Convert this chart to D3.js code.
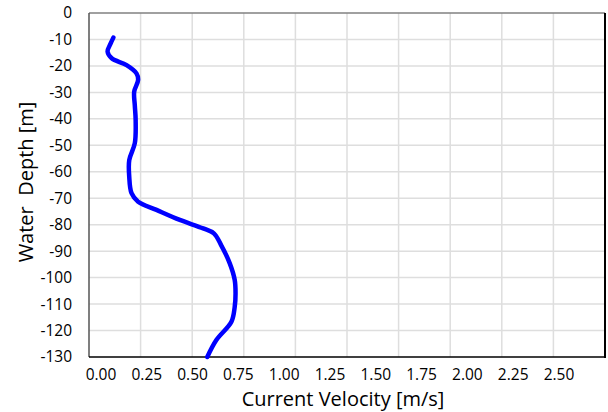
<!DOCTYPE html>
<meta charset="utf-8">
<style>
    body { margin: 0; background: #fff; }
    text { font-family: "Open Sans", sans-serif; fill: #000; }
    .grid line { stroke: #dedede; stroke-width: 1.5; }
    .tick-label { font-size: 15.5px; }
    .title { font-size: 20px; }
</style>
<body>
<script src="https://cdn.jsdelivr.net/npm/d3@7"></script>
<script>

    // profile: depth [m] and current velocity [m/s]
    var depths     = [-9.3, -11.5, -14.6, -17.1, -19.7, -22.8, -25.3, -29.7, -35, -40.4, -49.2, -55.6, -61.9, -68.1, -71.3, -74.4, -78.2, -81.4, -83.3, -87.7, -94.6, -100.9, -106, -111, -116.7, -123.6, -130];
    var velocities = [0.118, 0.105, 0.09, 0.11, 0.182, 0.23, 0.238, 0.219, 0.222, 0.226, 0.222, 0.195, 0.195, 0.206, 0.238, 0.327, 0.44, 0.553, 0.605, 0.64, 0.682, 0.706, 0.71, 0.706, 0.69, 0.617, 0.573];

    var xTicks = [0, 0.25, 0.5, 0.75, 1, 1.25, 1.5, 1.75, 2, 2.25, 2.5];
    var yTicks = [0, -10, -20, -30, -40, -50, -60, -70, -80, -90, -100, -110, -120, -130];

    var width = 608, height = 412;
    var plot = {left: 89, right: 605, top: 13, bottom: 357};

    var svg = d3.select("body").append("svg")
            .attr("width", width)
            .attr("height", height);

    var x = d3.scaleLinear().domain([0, 2.5]).range([plot.left, plot.right]);
    // tick labels in the picture sit on a tighter spacing than the grid
    var xLab = d3.scaleLinear().domain([0, 2.5]).range([101, 559]);
    var y = d3.scaleLinear().domain([-130, 0]).range([plot.bottom, plot.top]);

    var grid = svg.append("g").attr("class", "grid");

    grid.selectAll("line.v")
        .data(xTicks.slice(1))
      .enter().append("line")
        .attr("class", "v")
        .attr("x1", function(d) { return x(d); })
        .attr("x2", function(d) { return x(d); })
        .attr("y1", plot.top)
        .attr("y2", plot.bottom);

    grid.selectAll("line.h")
        .data(yTicks.slice(1, -1))
      .enter().append("line")
        .attr("class", "h")
        .attr("x1", plot.left)
        .attr("x2", plot.right)
        .attr("y1", function(d) { return y(d); })
        .attr("y2", function(d) { return y(d); });

    // frame
    svg.append("line").attr("x1", plot.left).attr("x2", plot.right)
        .attr("y1", plot.top).attr("y2", plot.top)
        .attr("stroke", "#808080").attr("stroke-width", 1.5);
    svg.append("line").attr("x1", plot.left).attr("x2", plot.left)
        .attr("y1", plot.top).attr("y2", plot.bottom)
        .attr("stroke", "#555").attr("stroke-width", 1.5);
    svg.append("line").attr("x1", plot.right).attr("x2", plot.right)
        .attr("y1", plot.top).attr("y2", plot.bottom + 1)
        .attr("stroke", "#000").attr("stroke-width", 2);
    svg.append("line").attr("x1", plot.left).attr("x2", plot.right + 1)
        .attr("y1", plot.bottom).attr("y2", plot.bottom)
        .attr("stroke", "#000").attr("stroke-width", 1.5);

    var profile = depths.map(function(d, i) { return {depth: d, v: velocities[i]}; });

    var line = d3.line()
        .x(function(d) { return x(d.v); })
        .y(function(d) { return y(d.depth); })
        .curve(d3.curveCatmullRom.alpha(0.5));

    svg.append("path")
        .datum(profile)
        .attr("d", line)
        .attr("fill", "none")
        .attr("stroke", "#0000ff")
        .attr("stroke-width", 4.5)
        .attr("stroke-linecap", "round")
        .attr("stroke-linejoin", "round");

    // tick labels
    svg.selectAll("text.xt")
        .data(xTicks)
      .enter().append("text")
        .attr("class", "tick-label")
        .attr("x", function(d) { return xLab(d); })
        .attr("y", 380)
        .attr("text-anchor", "middle")
        .text(d3.format(".2f"));

    svg.selectAll("text.yt")
        .data(yTicks)
      .enter().append("text")
        .attr("class", "tick-label")
        .attr("x", 72)
        .attr("y", function(d) { return y(d); })
        .attr("dy", "0.35em")
        .attr("text-anchor", "end")
        .text(function(d) { return d; });

    svg.append("text")
        .attr("class", "title")
        .attr("x", 343)
        .attr("y", 406)
        .attr("text-anchor", "middle")
        .text("Current Velocity [m/s]");

    svg.append("text")
        .attr("class", "title")
        .attr("transform", "translate(33,182) rotate(-90)")
        .attr("text-anchor", "middle")
        .attr("xml:space", "preserve")
        .style("white-space", "pre")
        .text("Water  Depth [m]");

</script>
